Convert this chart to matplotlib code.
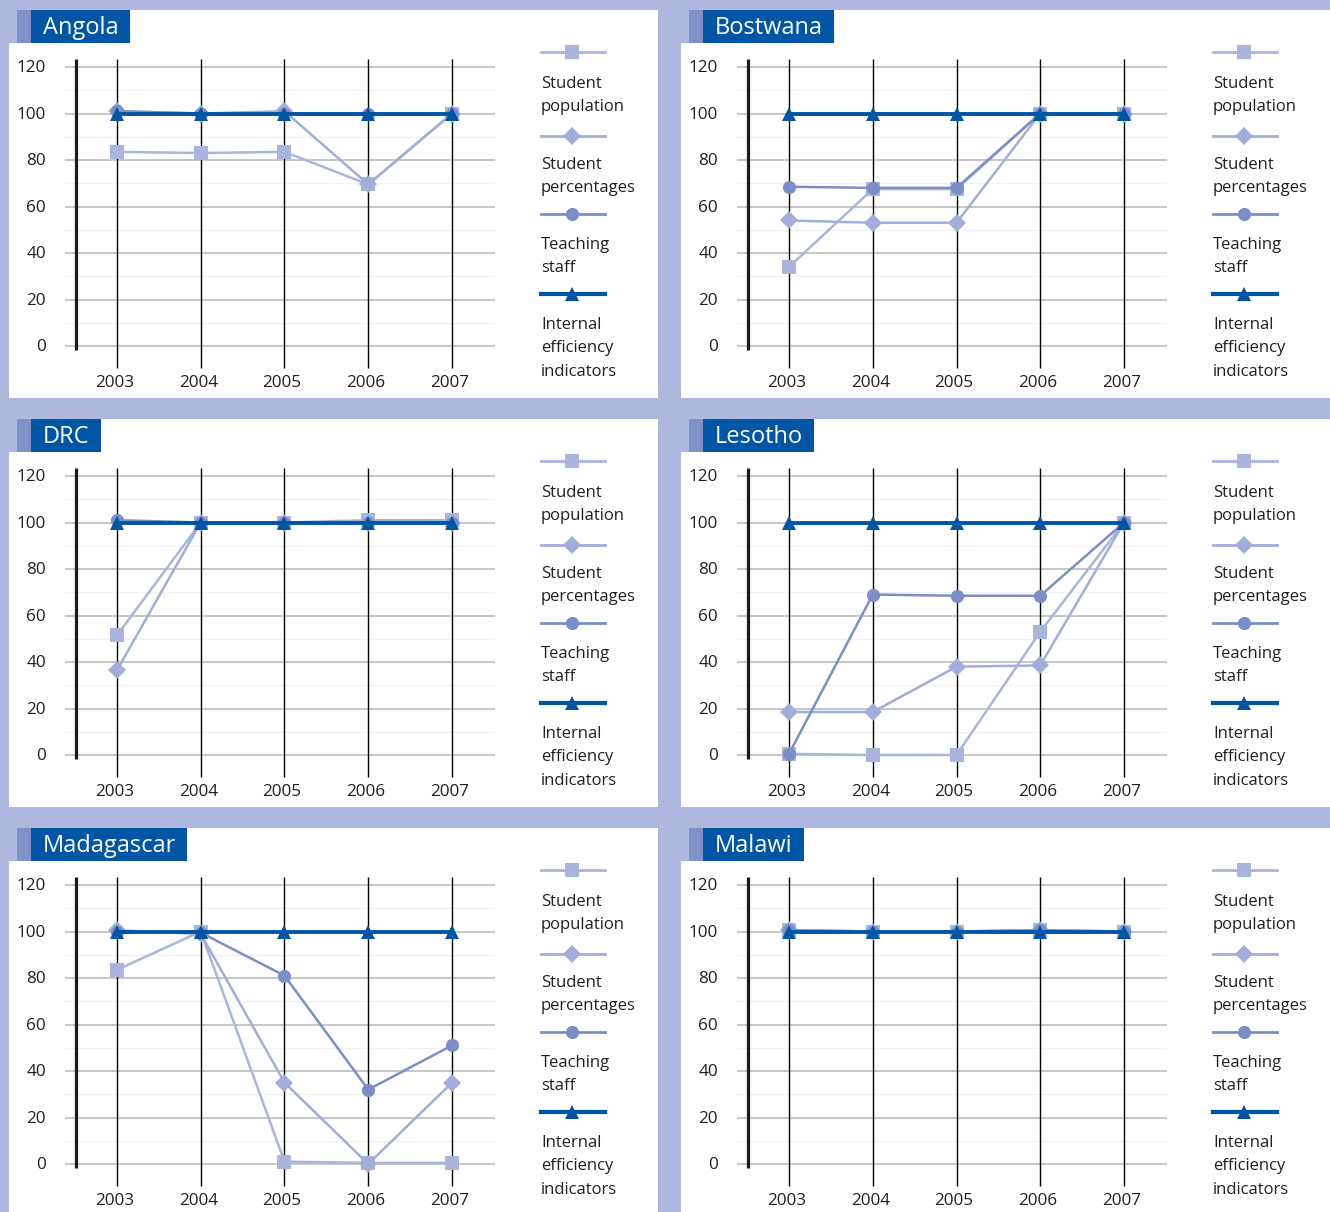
import matplotlib
matplotlib.use("Agg")
import matplotlib.pyplot as plt
from matplotlib.patches import Rectangle
from matplotlib.lines import Line2D

plt.rcParams['font.family'] = ['Open Sans', 'DejaVu Sans']

# ---------------- data ----------------
years = ['2003', '2004', '2005', '2006', '2007']
y_ticks = [0, 20, 40, 60, 80, 100, 120]
series_labels = ['Student\npopulation', 'Student\npercentages', 'Teaching\nstaff',
                 'Internal\nefficiency\nindicators']

angola_population = [83.5, 83, 83.5, 69.5, 100]
angola_percentages = [101, 100, 101, 69.5, 100]
angola_staff = [101, 100, 100, 100, 100]
angola_efficiency = [100, 100, 100, 100, 100]

botswana_population = [34, 67.5, 67.5, 100, 100]
botswana_percentages = [54, 53, 53, 100, 100]
botswana_staff = [68.5, 68, 68, 100, 100]
botswana_efficiency = [100, 100, 100, 100, 100]

drc_population = [51.5, 100, 100, 101, 101]
drc_percentages = [36.5, 100, 100, 100, 100]
drc_staff = [101, 100, 100, 100, 100]
drc_efficiency = [100, 100, 100, 100, 100]

lesotho_population = [0.5, 0, 0, 53, 100]
lesotho_percentages = [18.5, 18.5, 38, 38.5, 100]
lesotho_staff = [0.5, 69, 68.5, 68.5, 100]
lesotho_efficiency = [100, 100, 100, 100, 100]

madagascar_population = [83.5, 100, 1, 0.5, 0.5]
madagascar_percentages = [100.5, 99, 35, 0, 35]
madagascar_staff = [100, 99.5, 81, 32, 51]
madagascar_efficiency = [100, 100, 100, 100, 100]

malawi_population = [100.5, 100, 100, 100.5, 100]
malawi_percentages = [100.5, 100, 100, 100.5, 100]
malawi_staff = [100.5, 100, 100, 100.5, 100]
malawi_efficiency = [100, 100, 100, 100, 100]

countries = ['Angola', 'Bostwana', 'DRC', 'Lesotho', 'Madagascar', 'Malawi']
country_series = [
    [angola_population, angola_percentages, angola_staff, angola_efficiency],
    [botswana_population, botswana_percentages, botswana_staff, botswana_efficiency],
    [drc_population, drc_percentages, drc_staff, drc_efficiency],
    [lesotho_population, lesotho_percentages, lesotho_staff, lesotho_efficiency],
    [madagascar_population, madagascar_percentages, madagascar_staff, madagascar_efficiency],
    [malawi_population, malawi_percentages, malawi_staff, malawi_efficiency],
]

# ---------------- styling ----------------
BG = '#aeb8de'
STRIP = '#8091c8'
TITLE_BLUE = '#0055a5'
GRID = '#c6c6c6'
FAINT = '#f2f2f2'
TEXT = '#231f20'

styles = [
    dict(color='#aab5dd', marker='s', ms=10, lw=1.8),
    dict(color='#a2aed9', marker='D', ms=9, lw=1.8),
    dict(color='#7b8ec8', marker='o', ms=9.5, lw=1.8),
    dict(color='#0055a5', marker='^', ms=10, lw=2.8),
]

W, H = 1330, 1212
DPI = 100
fig = plt.figure(figsize=(W / DPI, H / DPI), dpi=DPI)
fig.patch.set_facecolor(BG)


def fx(x):
    return x / W


def fy(y):
    return 1 - y / H


def rect(x0, y0, x1, y1, color, z=0):
    fig.patches.append(Rectangle((fx(x0), fy(y1)), fx(x1) - fx(x0), fy(y0) - fy(y1),
                                 transform=fig.transFigure, facecolor=color,
                                 edgecolor='none', zorder=z))


col_x = [9, 681]
col_right = [658, 1330]
row_y = [10, 419, 828]
row_bottom = [398, 807, 1212]

# pixel geometry inside one panel
IDX0 = 108        # x offset of first year
STEP = 83.75      # pixels per year
ZERO = 336        # y offset of value 0
PPU = 2.325       # pixels per unit
AX_L, AX_R, AX_T, AX_B = 56, 486, 45, 374

renderer = fig.canvas.get_renderer()

for k, name in enumerate(countries):
    c, r = k % 2, k // 2
    X0, Y0 = col_x[c], row_y[r]
    X1, Y1 = col_right[c], row_bottom[r]

    # panel background
    rect(X0, Y0, X1, Y1, 'white', z=0)
    rect(X0, Y0, X0 + 8, Y0 + 33, BG, z=1)
    rect(X0 + 8, Y0, X0 + 22, Y0 + 33, STRIP, z=1)

    t = fig.text(fx(X0 + 34), fy(Y0 + 18), name, color='white', fontsize=17,
                 ha='left', va='center', zorder=3)
    bb = t.get_window_extent(renderer=renderer)
    rect(X0 + 22, Y0, bb.x1 + 11, Y0 + 33, TITLE_BLUE, z=2)

    # plot area
    ax = fig.add_axes([fx(X0 + AX_L), fy(Y0 + AX_B), (AX_R - AX_L) / W, (AX_B - AX_T) / H])
    ax.set_zorder(10)
    ax.set_axis_off()
    ax.set_xlim((AX_L - IDX0) / STEP, (AX_R - IDX0) / STEP)
    ax.set_ylim((ZERO - AX_B) / PPU, (ZERO - AX_T) / PPU)

    for v in [10, 30, 50, 70, 90, 110]:
        ax.axhline(v, color=FAINT, lw=1.0, zorder=1)
    for v in y_ticks:
        ax.axhline(v, color=GRID, lw=1.4, zorder=1)
        ax.text((37 - IDX0) / STEP, v - 0.6, str(v), ha='right', va='center',
                fontsize=12.3, color=TEXT)

    y_top = (ZERO - 49) / PPU
    for i, yr in enumerate(years):
        ax.vlines(i, (ZERO - 358) / PPU, y_top, color='black', lw=1.0, zorder=2)
        ax.text(i - 0.03, (ZERO - 373) / PPU, yr, ha='center', va='center',
                fontsize=12.3, color=TEXT)
    ax.vlines((67 - IDX0) / STEP, (ZERO - 340) / PPU, y_top, color='#1a1a1a',
              lw=2.3, zorder=2)

    xs = list(range(len(years)))
    for j, (vals, st) in enumerate(zip(country_series[k], styles)):
        ax.plot(xs, vals, color=st['color'], lw=st['lw'], marker=st['marker'],
                ms=st['ms'], markeredgewidth=0, zorder=3 + j, clip_on=False)

    # legend
    leg_y = [42, 126, 204, 284]
    txt_y = [72, 153, 233, 313]
    for j, st in enumerate(styles):
        ly = Y0 + leg_y[j]
        fig.add_artist(Line2D([fx(X0 + 532), fx(X0 + 596)], [fy(ly), fy(ly)],
                              transform=fig.transFigure, color=st['color'],
                              lw=st['lw'] + 0.2, zorder=4))
        fig.add_artist(Line2D([fx(X0 + 563)], [fy(ly)], transform=fig.transFigure,
                              color=st['color'], marker=st['marker'], ms=st['ms'],
                              markeredgewidth=0, lw=0, zorder=5))
        fig.text(fx(X0 + 532), fy(Y0 + txt_y[j] - 6), series_labels[j], ha='left',
                 va='top', fontsize=12, color=TEXT, linespacing=1.62, zorder=5)

fig.savefig('out.png', dpi=DPI, facecolor=BG)
